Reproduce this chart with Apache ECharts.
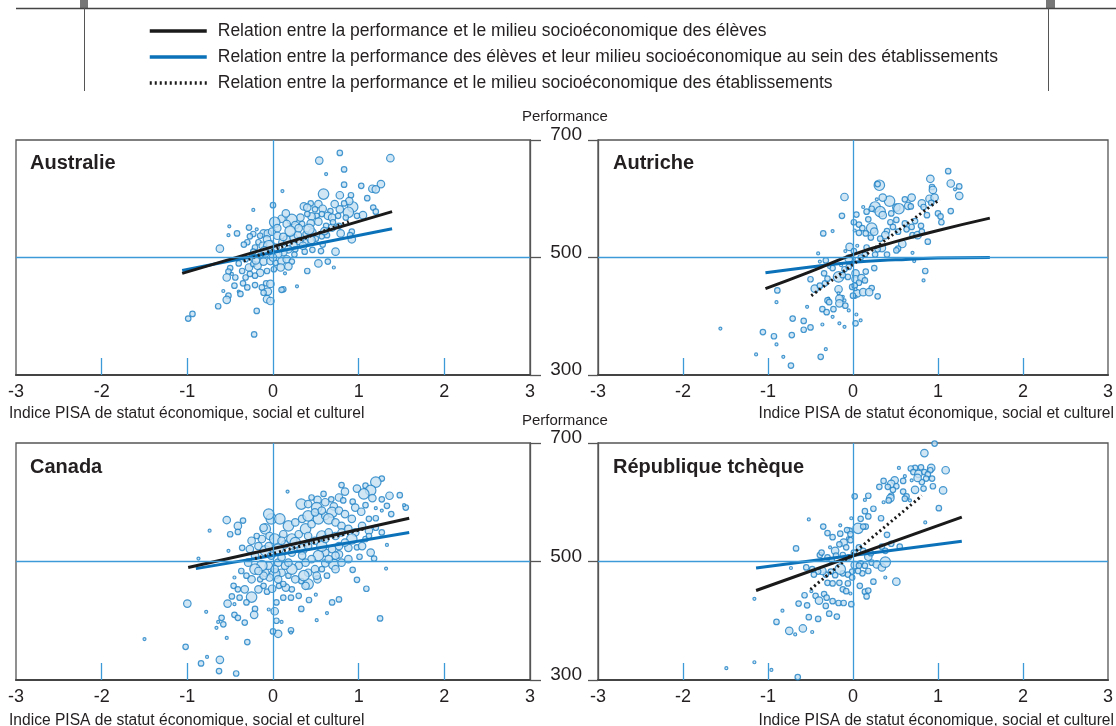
<!DOCTYPE html>
<html>
<head>
<meta charset="utf-8">
<script src="https://cdn.jsdelivr.net/npm/echarts@6/dist/echarts.min.js"></script>
<style>
  html, body { margin: 0; padding: 0; background: #fff; }
  #chart { width: 1116px; height: 726px; }
</style>
</head>
<body>
<div id="chart"></div>
<script>
// libellés
const legendNames = [
  'Relation entre la performance et le milieu socioéconomique des élèves',
  'Relation entre la performance des élèves et leur milieu socioéconomique au sein des établissements',
  'Relation entre la performance et le milieu socioéconomique des établissements'
]
const panelNames = ['Australie', 'Autriche', 'Canada', 'République tchèque']
const xAxisTitle = 'Indice PISA de statut économique, social et culturel'
const yAxisTitle = 'Performance'
const xTickLabels = [-3, -2, -1, 0, 1, 2, 3]
const xInnerTicks = [-2, -1, 1, 2]
const yTickLabels = [300, 500, 700]

// établissements : [indice SESC, performance, taille (1..4)]
const ausSchools = [
  [0.78,678,2],[0.54,665,3],[1.37,669,3],[0.83,650,2],[0.62,642,1],[0.11,613,1],[1.26,625,3],[1.16,617,3],
  [1.2,616,3],[1.03,622,2],[0.83,624,2],[0.59,608,4],[0.78,606,3],[0.91,606,2],[1.1,601,2],[0.93,586,4],
  [0.89,596,3],[1.17,585,2],[1.2,578,2],[1.05,572,3],[0.98,571,2],[0.88,577,4],[0.78,582,3],[0.72,591,3],
  [0.83,592,2],[0.53,591,3],[0.44,592,2],[0.36,587,3],[0.4,585,3],[0.0,589,2],[-0.23,581,1],[0.49,582,2],
  [0.58,583,3],[0.67,579,2],[0.64,571,3],[0.57,574,2],[0.69,568,3],[0.76,571,2],[0.85,568,2],[0.51,571,2],
  [0.45,570,3],[0.4,574,2],[0.32,568,3],[0.22,565,4],[0.1,566,3],[0.02,560,4],[0.16,557,3],[0.26,555,3],
  [0.34,557,2],[0.44,558,3],[0.53,561,3],[0.62,554,2],[0.69,551,3],[0.77,554,2],[0.92,544,2],[0.92,531,3],
  [0.9,538,2],[0.79,541,3],[0.57,536,2],[0.63,538,2],[0.58,522,2],[0.73,510,3],[0.56,511,2],[0.64,493,2],
  [0.53,490,3],[0.71,483,1],[0.4,477,2],[0.28,451,1],[0.14,473,1],[0.12,446,2],[0.1,445,2],
  [-0.28,551,2],[-0.19,548,1],[-0.42,541,2],[-0.51,553,1],[-0.52,538,1],[-0.23,540,2],[-0.27,536,2],
  [-0.3,526,2],[-0.34,522,2],[-0.62,515,3],[-0.11,541,3],[-0.06,541,3],[-0.15,537,2],[-0.01,544,3],
  [0.05,537,3],[-0.07,531,3],[-0.17,526,2],[-0.21,517,2],[-0.23,510,2],[-0.12,520,3],[-0.03,523,3],
  [0.03,517,3],[0.11,526,3],[0.16,531,3],[0.24,534,3],[0.29,538,3],[0.38,540,2],[0.46,543,3],[0.31,528,3],
  [0.24,520,3],[0.18,514,3],[0.12,509,3],[0.06,506,3],[-0.01,509,2],[-0.09,507,3],[-0.15,503,2],
  [-0.25,500,2],[-0.32,497,2],[-0.4,490,2],[-0.5,482,2],[-0.52,476,2],[-0.54,466,3],[-0.44,466,2],
  [-0.48,472,1],[-0.36,477,2],[-0.28,483,3],[-0.23,489,2],[-0.18,486,3],[-0.11,493,3],[-0.03,494,3],
  [0.03,491,2],[0.1,494,3],[0.16,497,3],[0.22,493,2],[0.18,485,3],[0.09,483,3],[0.01,480,2],[-0.07,477,2],
  [-0.15,474,3],[-0.21,469,2],[-0.27,472,2],[-0.32,466,2],[-0.35,456,2],[-0.45,452,2],[-0.3,449,2],
  [-0.21,453,2],[-0.13,449,2],[-0.08,456,2],[-0.03,455,3],[-0.06,442,3],[-0.07,429,3],[-0.03,426,3],
  [-0.4,442,1],[-0.58,443,1],[-0.52,435,2],[-0.54,428,3],[-0.38,438,2],[-0.11,440,2],[-0.19,409,2],
  [-0.64,417,2],[-0.94,404,2],[-0.99,396,2],[-0.22,369,2],[0.26,514,2],[0.37,510,2],[0.46,513,2],
  [0.38,526,2],[0.5,532,2],[0.05,550,3],[0.2,545,4],[0.3,550,3],[-0.05,520,4],[0.12,535,3],[0.35,520,3],
  [0.45,530,3],[0.6,545,3],[0.7,560,2],[-0.1,512,3],[0.0,500,3],[-0.2,495,3],[0.25,505,2],[0.42,548,4],
  [0.15,575,3]
]
const autSchools = [
  [1.12,647,2],[0.91,634,3],[1.15,626,3],[1.25,621,2],[1.2,616,1],[0.93,620,2],[0.94,615,3],[1.25,605,3],
  [0.31,623,4],[0.29,625,2],[-0.1,603,3],[0.43,596,4],[0.35,602,3],[0.61,599,2],[0.69,602,3],[0.28,599,1],
  [0.26,586,4],[0.32,578,4],[0.35,572,3],[0.22,583,2],[0.16,578,2],[0.12,586,1],[0.04,573,2],[-0.13,571,2],
  [0.51,585,3],[0.54,583,4],[0.65,588,3],[0.68,587,2],[0.81,592,3],[0.83,586,2],[0.9,600,3],[0.96,602,3],
  [0.92,593,2],[1.15,579,2],[1.0,575,2],[1.03,570,2],[1.04,560,2],[0.87,572,2],[0.18,565,2],[0.07,556,2],
  [0.01,560,2],[0.11,550,2],[0.22,550,4],[0.25,544,3],[0.15,541,2],[0.07,542,2],[0.02,546,1],[-0.24,545,1],
  [-0.35,541,2],[0.45,575,2],[0.51,564,2],[0.44,560,2],[0.47,552,2],[0.4,545,2],[0.38,538,3],[0.32,532,2],
  [0.21,534,2],[0.53,544,2],[0.63,548,2],[0.69,552,2],[0.7,538,2],[0.61,558,2],[0.73,562,2],[0.76,538,3],
  [0.81,544,2],[0.8,554,2],[0.88,527,2],[0.58,523,3],[0.53,515,2],[0.51,512,2],[0.34,516,3],[0.29,514,2],
  [0.16,517,2],[0.05,520,1],[-0.04,518,3],[0.01,511,2],[-0.09,511,1],[-0.05,498,3],[0.01,498,1],[0.09,500,2],
  [0.14,505,2],[0.26,505,2],[0.4,505,2],[0.7,508,1],[0.72,494,1],[0.85,477,2],[0.83,461,1],[0.25,482,2],
  [0.15,476,2],[0.03,473,3],[0.03,463,3],[0.1,465,3],[0.07,457,2],[-0.01,450,2],[-0.06,467,2],[-0.17,467,4],
  [-0.12,470,2],[-0.1,480,2],[-0.14,487,1],[-0.24,482,2],[-0.28,484,1],[-0.34,473,2],[-0.41,507,1],
  [-0.39,493,1],[-0.32,495,2],[-0.5,463,2],[-0.45,447,3],[-0.39,452,2],[-0.33,456,2],[-0.3,464,2],
  [-0.17,446,3],[-0.17,439,1],[-0.12,433,1],[-0.16,430,3],[-0.16,422,3],[-0.09,418,2],[-0.05,410,1],
  [-0.1,427,1],[-0.29,430,1],[-0.3,427,2],[-0.28,424,2],[-0.36,412,2],[-0.31,407,2],[-0.23,412,2],
  [-0.24,399,1],[-0.36,386,1],[-0.16,388,1],[-0.1,382,1],[0.04,403,1],[0.09,393,1],[0.03,388,2],
  [0.05,439,3],[0.03,433,1],[0.12,441,3],[0.22,448,2],[0.29,434,2],[0.19,441,3],[-0.89,444,2],[-0.9,424,1],
  [-0.71,396,2],[-0.58,392,2],[-0.5,381,2],[-0.58,377,2],[-0.72,368,2],[-0.93,366,2],[-1.06,373,2],
  [-0.9,352,1],[-1.14,335,1],[-0.82,331,1],[-0.73,316,2],[-0.38,331,2],[-0.32,344,1],[-1.56,379,1],
  [-0.54,416,1],[0.02,452,2],[0.03,446,1],[0.0,435,2],[0.14,461,2],[-0.05,484,2]
]
const canSchools = [
  [1.27,640,2],[1.2,634,4],[1.08,628,2],[0.98,623,3],[1.14,620,4],[1.06,614,4],[1.16,607,3],[1.27,605,2],
  [1.36,611,3],[1.48,612,2],[0.8,629,2],[0.84,618,3],[0.77,608,3],[0.68,605,2],[0.59,614,2],[0.52,604,3],
  [0.45,608,2],[0.33,597,4],[0.41,597,3],[0.51,591,4],[0.61,600,3],[0.71,593,3],[0.82,603,2],[0.93,601,2],
  [0.96,591,3],[1.08,595,2],[1.33,594,2],[1.2,590,1],[1.27,586,1],[1.38,580,2],[1.55,591,2],[1.53,595,1],
  [1.03,584,3],[1.12,572,2],[1.2,573,2],[1.27,549,2],[1.33,528,1],[1.18,505,2],[1.14,515,3],[1.01,508,2],
  [0.98,524,2],[0.88,523,3],[0.77,512,3],[0.71,495,4],[0.61,497,3],[0.57,487,2],[0.63,476,2],[0.52,470,3],
  [0.41,462,4],[0.38,459,3],[0.33,467,2],[0.18,476,2],[0.1,481,3],[0.02,479,4],[-0.04,473,3],[-0.09,481,3],
  [-0.15,470,2],[-0.25,470,3],[-0.31,476,2],[-0.37,484,2],[-0.45,473,1],[-0.46,459,2],[-0.41,453,2],
  [-0.33,453,3],[-0.25,440,4],[-0.17,453,3],[-0.11,459,2],[-0.07,449,2],[-0.01,454,3],[0.07,459,2],
  [0.15,456,3],[0.22,453,2],[0.3,442,2],[0.21,439,2],[0.12,439,2],[0.04,431,2],[0.02,416,3],[-0.05,419,1],
  [-0.21,420,2],[-0.22,410,3],[-0.31,431,2],[-0.39,439,2],[-0.48,441,2],[-0.53,429,3],[-0.45,428,1],
  [-0.45,410,2],[-0.41,405,2],[-0.33,397,2],[-0.6,405,2],[-0.64,398,1],[-0.58,394,2],[-0.54,371,1],
  [-0.3,364,2],[-0.66,388,1],[-1.0,429,3],[-0.78,415,1],[0.04,400,2],[0.1,398,1],[0.21,384,2],[0.21,380,1],
  [0.06,378,3],[0.0,382,2],[0.33,420,2],[0.42,435,2],[0.5,444,1],[0.69,431,2],[0.63,413,1],[0.51,401,1],
  [0.77,436,2],[0.93,486,2],[0.98,469,2],[1.09,454,2],[1.25,404,2],[1.32,488,1],[-1.5,369,1],[-1.02,356,2],
  [-0.77,339,1],[-0.62,334,3],[-0.84,328,2],[-0.63,315,2],[-0.43,311,2],[-0.74,552,1],[-0.54,570,3],
  [-0.41,560,3],[-0.35,569,2],[-0.41,550,2],[-0.5,546,2],[0.17,618,1],[-0.52,518,1],[-0.36,523,2],
  [-0.87,505,1],
  [-0.25,535,3],[-0.17,526,3],[-0.09,518,4],[-0.02,510,3],[0.06,521,4],[0.14,529,3],[0.22,538,4],[0.3,546,3],
  [0.38,555,4],[0.45,563,3],[0.53,572,4],[0.61,577,3],[0.69,583,4],[0.77,586,3],[0.84,580,3],[0.92,572,3],
  [1.04,560,3],[1.12,552,3],[1.2,557,2],[-0.09,555,4],[-0.02,572,4],[0.08,572,4],[-0.05,580,4],
  [-0.11,557,3],[-0.13,538,3],[-0.04,543,3],[0.02,538,4],[0.12,546,3],[0.18,560,4],[0.26,566,3],
  [0.34,572,3],[0.41,577,4],[0.49,583,3],[0.57,586,3],[0.65,572,4],[0.73,566,3],[0.8,560,3],[0.88,555,3],
  [0.96,549,3],[0.92,538,4],[0.84,532,3],[0.77,526,3],[0.69,521,3],[0.61,515,3],[0.53,510,4],[0.45,504,3],
  [0.38,498,3],[0.3,493,3],[0.22,487,4],[0.14,493,3],[0.06,498,3],[-0.05,493,3],[-0.13,493,4],[-0.21,487,4],
  [-0.29,498,3],[-0.21,510,3],[-0.27,521,3],[-0.19,543,2],[0.22,515,3],[0.34,521,4],[0.41,526,3],
  [0.49,535,3],[0.57,543,4],[0.65,549,3],[0.73,543,3],[0.8,549,3],[0.34,510,3],[0.1,507,3],[0.02,487,3],
  [0.41,481,3],[0.49,487,3],[0.18,498,3],[0.73,487,3],[0.8,498,3],[0.88,504,3],[1.04,526,3],[1.08,538,2],
  [1.12,543,2],[0.57,526,4],[0.51,476,3],[0.36,476,4],[0.26,470,3],[0.06,470,3],[0.12,462,2],[-0.11,476,3],
  [-0.17,484,3],[0.41,543,3],[0.26,532,4],[0.1,535,3],[-0.05,526,3],[0.73,510,3],[0.65,504,3],[0.61,538,3]
]
const czeSchools = [
  [0.96,699,2],[0.84,683,3],[1.09,654,3],[0.92,658,3],[0.91,654,2],[0.8,659,2],[0.73,658,2],[0.68,657,2],
  [0.71,651,2],[0.77,648,3],[0.84,651,2],[0.88,647,2],[0.93,640,2],[0.86,640,2],[0.81,634,2],[0.76,641,3],
  [0.69,637,1],[0.54,658,1],[0.61,644,1],[0.49,637,3],[0.45,631,3],[0.41,626,2],[0.36,636,2],[0.31,626,2],
  [0.51,627,2],[0.47,621,2],[0.59,636,2],[0.59,618,2],[0.63,610,2],[0.67,603,1],[0.73,621,3],[0.83,623,2],
  [0.94,627,2],[1.06,620,3],[1.01,590,2],[0.85,566,1],[0.45,611,2],[0.44,607,3],[0.42,603,2],[0.36,600,1],
  [0.61,606,2],[0.18,611,2],[0.14,604,1],[0.02,610,2],[0.24,589,2],[0.18,576,2],[0.14,585,2],[0.09,572,2],
  [0.15,559,2],[0.33,573,2],[0.4,545,2],[0.45,530,2],[0.55,525,2],[0.34,525,2],[0.38,518,2],[-0.02,573,1],
  [0.06,556,4],[0.12,559,2],[-0.04,552,2],[-0.07,553,2],[-0.03,546,2],[-0.15,547,2],[-0.15,561,1],
  [-0.35,559,2],[-0.3,548,2],[-0.24,541,2],[-0.27,524,1],[-0.39,511,2],[-0.37,515,2],[-0.52,571,1],
  [-0.67,522,2],[-0.11,532,3],[-0.08,524,2],[-0.06,539,1],[-0.03,536,2],[-0.16,529,2],[-0.21,518,3],
  [-0.3,507,2],[-0.25,502,2],[-0.2,510,2],[-0.12,511,2],[-0.05,507,2],[0.01,515,2],[0.07,524,2],
  [0.12,518,2],[0.18,508,3],[0.22,498,2],[0.28,495,3],[0.34,490,3],[0.38,499,4],[0.51,466,3],[0.21,514,2],
  [0.09,497,2],[0.02,494,3],[0.07,493,2],[0.14,493,2],[0.11,480,2],[0.18,484,2],[0.06,484,2],[-0.01,483,2],
  [-0.06,478,2],[-0.12,480,2],[-0.15,487,4],[-0.21,477,2],[-0.26,483,2],[-0.32,478,2],[-0.36,484,3],
  [-0.41,483,2],[-0.46,478,2],[-0.48,487,2],[-0.55,490,2],[-0.73,489,1],[-0.3,464,2],[-0.24,463,2],
  [-0.16,464,2],[-0.12,453,2],[-0.08,450,2],[-0.03,446,1],[-0.06,463,2],[-0.01,473,2],[0.08,459,2],
  [0.14,449,2],[0.18,451,2],[0.16,441,2],[0.24,466,2],[0.38,473,1],[-0.57,443,2],[-0.49,450,1],
  [-0.44,442,2],[-0.4,434,3],[-0.34,445,2],[-0.31,439,2],[-0.32,425,2],[-0.28,412,2],[-0.19,407,2],
  [-0.24,433,2],[-0.17,430,2],[-0.11,430,2],[-0.02,428,2],[-0.64,429,2],[-0.54,426,2],[-0.52,406,2],
  [-0.41,403,2],[-0.83,417,1],[-0.9,398,2],[-0.75,383,3],[-0.59,387,3],[-0.68,377,1],[-0.48,381,1],
  [-1.16,437,1],[-1.16,330,1],[-1.49,320,1],[-0.96,317,1],[-0.65,305,2]
]

// droites de régression : [indice, performance]
const ausStudentLine = [[-1.06,473],[1.39,578]]
const ausWithinLine = [[-1.06,478],[1.39,549]]
const ausBetweenLine = [[-0.34,494],[0.9,562]]
const autStudentLine = [[-1.03,447],[-0.5,476],[0,505],[0.5,527],[1,546],[1.61,567]]
const autWithinLine = [[-1.03,474],[-0.5,484],[0,492],[0.5,496],[1,499],[1.61,500]]
const autBetweenLine = [[-0.49,435],[1.02,599]]
const canStudentLine = [[-0.99,490],[1.59,573]]
const canWithinLine = [[-0.9,488],[1.59,549]]
const canBetweenLine = [[-0.21,505],[1.08,556]]
const czeStudentLine = [[-1.14,451],[1.28,575]]
const czeWithinLine = [[-1.14,489],[1.28,534]]
const czeBetweenLine = [[-0.5,453],[0.81,611]]

const panels = [
  { name: panelNames[0], schools: ausSchools, lines: [ausStudentLine, ausWithinLine, ausBetweenLine] },
  { name: panelNames[1], schools: autSchools, lines: [autStudentLine, autWithinLine, autBetweenLine] },
  { name: panelNames[2], schools: canSchools, lines: [canStudentLine, canWithinLine, canBetweenLine] },
  { name: panelNames[3], schools: czeSchools, lines: [czeStudentLine, czeWithinLine, czeBetweenLine] }
]

// styles
const FONT = 'Liberation Sans'
const TEXT = '#231f20'
const FRAME = '#555'
const REF_BLUE = '#3d9ad8'
const BUBBLE_SIZE = [0, 3, 5.5, 7.5, 10.5]
const lineStyles = [
  { color: '#1a1a1a', width: 3, type: 'solid' },
  { color: '#0b72b9', width: 3, type: 'solid' },
  { color: '#1a1a1a', width: 3, type: [2, 3] }
]
const grids = [
  { left: 16, top: 140, width: 514, height: 235 },
  { left: 598, top: 140, width: 512, height: 235 },
  { left: 16, top: 443, width: 514, height: 237 },
  { left: 598, top: 443, width: 512, height: 237 }
]

const chart = echarts.init(document.getElementById('chart'))

const xAxes = grids.map((g, i) => ({
  gridIndex: i, type: 'value', min: -3, max: 3,
  splitLine: { show: false },
  axisLine: { show: true, onZero: false, lineStyle: { color: '#444', width: 2 } },
  axisTick: { show: true, inside: true, length: 17, customValues: xInnerTicks, lineStyle: { color: REF_BLUE, width: 1.3 } },
  axisLabel: { customValues: xTickLabels, margin: 8, fontSize: 18, color: TEXT, fontFamily: FONT }
}))

const yAxes = grids.map((g, i) => {
  const isLeft = i % 2 === 0
  return {
    gridIndex: i, type: 'value', min: 300, max: 700,
    position: isLeft ? 'right' : 'left',
    splitLine: { show: false },
    axisLine: { show: true, onZero: false, lineStyle: { color: FRAME, width: 1.3 } },
    axisTick: { show: true, length: isLeft ? 11 : 10, customValues: yTickLabels, lineStyle: { color: FRAME, width: 1.3 } },
    axisLabel: {
      show: !isLeft, customValues: yTickLabels, margin: 16, fontSize: 19, color: TEXT, fontFamily: FONT,
      verticalAlign: 'bottom', lineHeight: 10
    }
  }
})

const series = []
panels.forEach((p, i) => {
  series.push({
    type: 'scatter', xAxisIndex: i, yAxisIndex: i, data: [], z: 1, silent: true,
    markLine: {
      silent: true, symbol: 'none', label: { show: false },
      lineStyle: { color: REF_BLUE, width: 1.3, type: 'solid' },
      data: [{ xAxis: 0 }, { yAxis: 500 }]
    }
  })
  series.push({
    type: 'scatter', xAxisIndex: i, yAxisIndex: i, z: 2, data: p.schools,
    symbolSize: v => BUBBLE_SIZE[v[2]],
    itemStyle: { color: '#c4e0f3', borderColor: '#1b80c4', borderWidth: 1.2 }
  })
  p.lines.forEach((ln, k) => {
    series.push({
      name: legendNames[k], type: 'line', xAxisIndex: i, yAxisIndex: i, z: 3 + (k === 0 ? 1 : 0),
      data: ln, smooth: true, symbol: 'none', lineStyle: lineStyles[k], itemStyle: { color: lineStyles[k].color }
    })
  })
})

const titles = [
  { text: panelNames[0], left: 25, top: 148 },
  { text: panelNames[1], left: 608, top: 148 },
  { text: panelNames[2], left: 25, top: 452 },
  { text: panelNames[3], left: 608, top: 452 }
].map(t => ({ ...t, textStyle: { fontFamily: FONT, fontSize: 20, fontWeight: 'bold', color: TEXT } }))
;[104, 408].forEach(top => titles.push({
  text: yAxisTitle, left: 517, top, textStyle: { fontFamily: FONT, fontSize: 15, fontWeight: 'normal', color: TEXT }
}))
;[401, 708].forEach(top => {
  titles.push({ text: xAxisTitle, left: 4, top, textStyle: { fontFamily: FONT, fontSize: 15.6, fontWeight: 'normal', color: TEXT } })
  titles.push({ text: xAxisTitle, right: -3, top, textStyle: { fontFamily: FONT, fontSize: 15.6, fontWeight: 'normal', color: TEXT } })
})

chart.setOption({
  animation: false,
  title: titles,
  grid: grids.map(g => ({ ...g, show: true, borderColor: FRAME, borderWidth: 1.3 })),
  xAxis: xAxes,
  yAxis: yAxes,
  legend: {
    data: legendNames, orient: 'vertical', left: 143, top: 16,
    itemWidth: 57, itemHeight: 10, itemGap: 6, selectedMode: false,
    itemStyle: { opacity: 0 },
    lineStyle: { width: 3.5 },
    textStyle: { fontFamily: FONT, fontSize: 17.5, lineHeight: 20, color: TEXT, padding: [0, 0, 0, 6] }
  },
  graphic: [
    { type: 'rect', shape: { x: 80, y: 0, width: 8, height: 8 }, style: { fill: '#777' } },
    { type: 'rect', shape: { x: 1046, y: 0, width: 9, height: 8 }, style: { fill: '#777' } },
    { type: 'line', shape: { x1: 16, y1: 8.5, x2: 1116, y2: 8.5 }, style: { stroke: '#444', lineWidth: 1.5 } },
    { type: 'line', shape: { x1: 84.5, y1: 8, x2: 84.5, y2: 91 }, style: { stroke: '#555', lineWidth: 1 } },
    { type: 'line', shape: { x1: 1048.5, y1: 8, x2: 1048.5, y2: 91 }, style: { stroke: '#555', lineWidth: 1 } }
  ],
  series
})
</script>
</body>
</html>
